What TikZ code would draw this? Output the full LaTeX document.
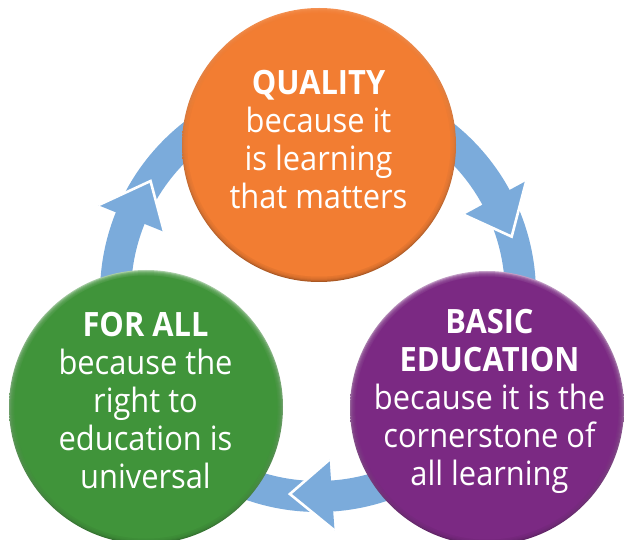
\documentclass[tikz,border=0pt]{standalone}
\usepackage{fontspec}
\setmainfont{Open Sans}[FakeStretch=0.92]
\definecolor{ringblue}{RGB}{123,171,219}
\definecolor{qorange}{RGB}{242,125,50}
\definecolor{qgreen}{RGB}{64,148,58}
\definecolor{qpurple}{RGB}{123,41,131}
\begin{document}
\begin{tikzpicture}[x=1pt,y=1pt,
  ball/.style={circle, minimum size=274pt, inner sep=0pt, draw=none},
  ctext/.style={text=white, align=center, font=\fontsize{33.5}{38}\selectfont, anchor=base, inner sep=0pt},
  headfill/.style={fill=ringblue},
  headedge/.style={draw=white, line width=2.6pt, line join=miter}]
\useasboundingbox (0,0) rectangle (624,539);
\clip (0,0) rectangle (624,539);
\coordinate (c) at (318,245);
% ring
\draw[ringblue, line width=31pt] (c) circle (202.5);
% arrow heads
\foreach \a in {146,16.5,262}{
  \pgfmathsetmacro{\b}{\a+12}
  \begin{scope}[shift={(c)}]
    \coordinate (p1) at (\b:166);
    \coordinate (tip) at (\a:202);
    \coordinate (p2) at (\b:237);
    \fill[headfill] (p1) -- (tip) -- (p2) -- cycle;
    \draw[headedge] (p1) -- (tip) -- (p2);
  \end{scope}
}
% circles
\node[ball, top color=qorange!85!white, bottom color=qorange!70!black] (quality) at (319,394) {};
\node[ball, top color=qgreen!45!white, bottom color=qgreen!75!black] (forall) at (146,132) {};
\node[ball, top color=qpurple!45!white, bottom color=qpurple!75!black] (basic) at (487,131) {};
\foreach \n/\col in {quality/qorange, forall/qgreen, basic/qpurple}{
  \foreach \k in {1,...,5}{
    \fill[\col, opacity=0.35] (\n.center) circle (137-\k);
  }
  \fill[\col] (\n.center) circle (131.5);
}
% texts (anchor base = baseline of the last line)
\node[ctext] (qt) at (318.5,330) {\textbf{QUALITY}\\because it\\is learning\\that matters};
\node[ctext] (ft) at (145.5,51) {\textbf{FOR ALL}\\because the\\right to\\education is\\universal};
\node[ctext] (bt) at (489.5,54) {\textbf{BASIC}\\\textbf{EDUCATION}\\because it is the\\cornerstone of\\all learning};
\end{tikzpicture}
\end{document}
